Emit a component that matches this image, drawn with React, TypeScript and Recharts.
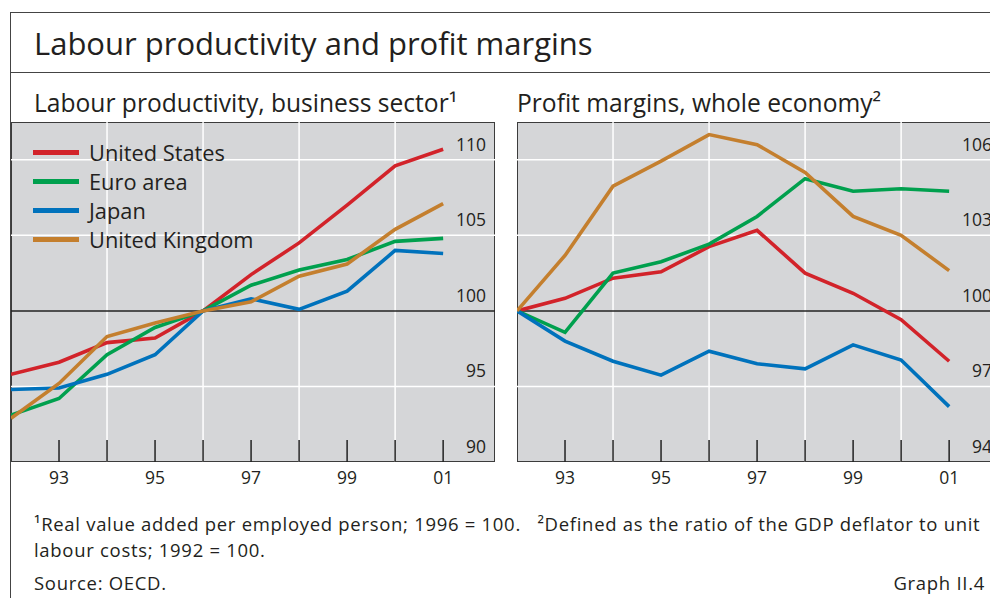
import { LineChart, Line, XAxis, YAxis, ReferenceLine } from 'recharts';

const YEARS = [1992, 1993, 1994, 1995, 1996, 1997, 1998, 1999, 2000, 2001];

// Labour productivity, business sector (1996 = 100)
const PROD_US = [95.8, 96.6, 97.9, 98.2, 100, 102.4, 104.5, 107.0, 109.6, 110.7];
const PROD_EURO = [93.1, 94.2, 97.1, 98.9, 100, 101.7, 102.7, 103.4, 104.6, 104.8];
const PROD_JAPAN = [94.8, 94.9, 95.8, 97.1, 100, 100.8, 100.1, 101.3, 104.0, 103.8];
const PROD_UK = [92.9, 95.2, 98.3, 99.2, 100, 100.6, 102.3, 103.1, 105.4, 107.1];

// Profit margins, whole economy (1992 = 100)
const MARGIN_US = [100, 100.5, 101.3, 101.55, 102.55, 103.2, 101.5, 100.7, 99.65, 98.0];
const MARGIN_EURO = [100, 99.15, 101.5, 101.95, 102.65, 103.75, 105.25, 104.75, 104.85, 104.75];
const MARGIN_JAPAN = [100, 98.8, 98.0, 97.45, 98.4, 97.9, 97.7, 98.65, 98.05, 96.2];
const MARGIN_UK = [100, 102.2, 104.95, 105.95, 107.0, 106.6, 105.5, 103.75, 103.0, 101.6];

const PROD_TICKS = [90, 95, 100, 105, 110];
const MARGIN_TICKS = [94, 97, 100, 103, 106];
const TICK_YEARS = [1993, 1994, 1995, 1996, 1997, 1998, 1999, 2000, 2001];
const GRID_YEARS = [1994, 1996, 1998, 2000];

const SERIES = [
  { key: 'us', name: 'United States', color: '#d2232a' },
  { key: 'euro', name: 'Euro area', color: '#00a04e' },
  { key: 'japan', name: 'Japan', color: '#0072bc' },
  { key: 'uk', name: 'United Kingdom', color: '#c47f2e' },
];

const prodRows = YEARS.map((year, i) => ({
  year,
  us: PROD_US[i],
  euro: PROD_EURO[i],
  japan: PROD_JAPAN[i],
  uk: PROD_UK[i],
}));

const marginRows = YEARS.map((year, i) => ({
  year,
  us: MARGIN_US[i],
  euro: MARGIN_EURO[i],
  japan: MARGIN_JAPAN[i],
  uk: MARGIN_UK[i],
}));

const FONT = "'Open Sans', 'DejaVu Sans', sans-serif";
const TEXT = '#231f20';
const BG = '#d5d6d8';
const PLOT_W = 484;
const PLOT_H = 340;
const AXIS_H = 34;
const PLOT_TOP = 122;

function YearTick(props: any) {
  const { x, y, payload } = props;
  const yr = payload.value as number;
  return (
    <g>
      <line x1={x} x2={x} y1={y - 22} y2={y} stroke="#222" strokeWidth={1.5} />
      {yr % 2 === 1 && (
        <text x={x} y={y + 22} textAnchor="middle" fill={TEXT} fontSize={17.5} fontFamily={FONT}>
          {String(yr).slice(2)}
        </text>
      )}
    </g>
  );
}

function Panel({ left, rows, domain, ticks, base }: any) {
  return (
    <div style={{ position: 'absolute', left, top: PLOT_TOP, width: PLOT_W, height: PLOT_H + AXIS_H }}>
      <div
        style={{
          position: 'absolute',
          left: 0,
          top: 0,
          width: PLOT_W,
          height: PLOT_H,
          background: BG,
          boxSizing: 'border-box',
          border: '1.5px solid #3c3c3c',
        }}
      />
      <LineChart
        width={PLOT_W}
        height={PLOT_H + AXIS_H}
        data={rows}
        margin={{ top: 0, right: 0, bottom: 0, left: 0 }}
        style={{ position: 'absolute', left: 0, top: 0 }}
      >
        <XAxis
          dataKey="year"
          type="number"
          domain={[1992, 2002.08]}
          ticks={TICK_YEARS}
          interval={0}
          height={AXIS_H}
          axisLine={false}
          tickLine={false}
          tickSize={0}
          tickMargin={0}
          tick={<YearTick />}
          allowDataOverflow
        />
        <YAxis hide domain={domain} allowDataOverflow />
        {GRID_YEARS.map((yr) => (
          <ReferenceLine key={yr} x={yr} stroke="#ffffff" strokeWidth={1.5} />
        ))}
        {ticks.map((v: number, i: number) => (
          <ReferenceLine
            key={v}
            y={v}
            stroke={v === base ? '#222' : i === 0 ? 'none' : '#ffffff'}
            strokeWidth={1.5}
            label={{
              value: String(v),
              position: 'insideBottomRight',
              offset: 9,
              fill: TEXT,
              fontSize: 17.5,
              fontFamily: FONT,
            }}
          />
        ))}
        {SERIES.map((s) => (
          <Line
            key={s.key}
            type="linear"
            dataKey={s.key}
            stroke={s.color}
            strokeWidth={3.6}
            dot={false}
            isAnimationActive={false}
          />
        ))}
      </LineChart>
    </div>
  );
}

export default function App() {
  return (
    <div
      style={{
        position: 'fixed',
        left: 0,
        top: 0,
        width: 990,
        height: 598,
        overflow: 'hidden',
        background: '#fff',
        fontFamily: FONT,
        color: TEXT,
      }}
    >
      {/* outer frame */}
      <div style={{ position: 'absolute', left: 10, top: 12, width: 1000, height: 600, borderLeft: '1.5px solid #444', borderTop: '1.5px solid #444' }} />
      <div style={{ position: 'absolute', left: 10, top: 72, width: 1000, borderTop: '1.5px solid #444' }} />

      <div style={{ position: 'absolute', left: 34, top: 22, fontSize: 31, whiteSpace: 'nowrap' }}>
        Labour productivity and profit margins
      </div>
      <div style={{ position: 'absolute', left: 34, top: 86, fontSize: 24.6, whiteSpace: 'nowrap' }}>
        Labour productivity, business sector¹
      </div>
      <div style={{ position: 'absolute', left: 517, top: 86, fontSize: 24.6, whiteSpace: 'nowrap' }}>
        Profit margins, whole economy²
      </div>

      <Panel left={11} rows={prodRows} domain={[90, 112.5]} ticks={PROD_TICKS} base={100} />
      <Panel left={517} rows={marginRows} domain={[94, 107.5]} ticks={MARGIN_TICKS} base={100} />

      {/* legend */}
      <div style={{ position: 'absolute', left: 33, top: 138 }}>
        {SERIES.map((s) => (
          <div key={s.key} style={{ display: 'flex', alignItems: 'center', height: 29, fontSize: 21.8 }}>
            <span style={{ display: 'inline-block', width: 46, height: 5, background: s.color, marginRight: 10 }} />
            <span>{s.name}</span>
          </div>
        ))}
      </div>

      <div style={{ position: 'absolute', left: 34, top: 511, fontSize: 18.5, letterSpacing: 0.7, lineHeight: '26px', width: 960, whiteSpace: 'nowrap' }}>
        <div>¹Real value added per employed person; 1996 = 100.&nbsp;&nbsp; ²Defined as the ratio of the GDP deflator to unit</div>
        <div>labour costs; 1992 = 100.</div>
      </div>
      <div style={{ position: 'absolute', left: 34, top: 570, fontSize: 18.5, letterSpacing: 0.7, whiteSpace: 'nowrap' }}>Source: OECD.</div>
      <div style={{ position: 'absolute', right: 5, top: 570, fontSize: 18.5, letterSpacing: 0.7, whiteSpace: 'nowrap' }}>Graph II.4</div>
    </div>
  );
}
